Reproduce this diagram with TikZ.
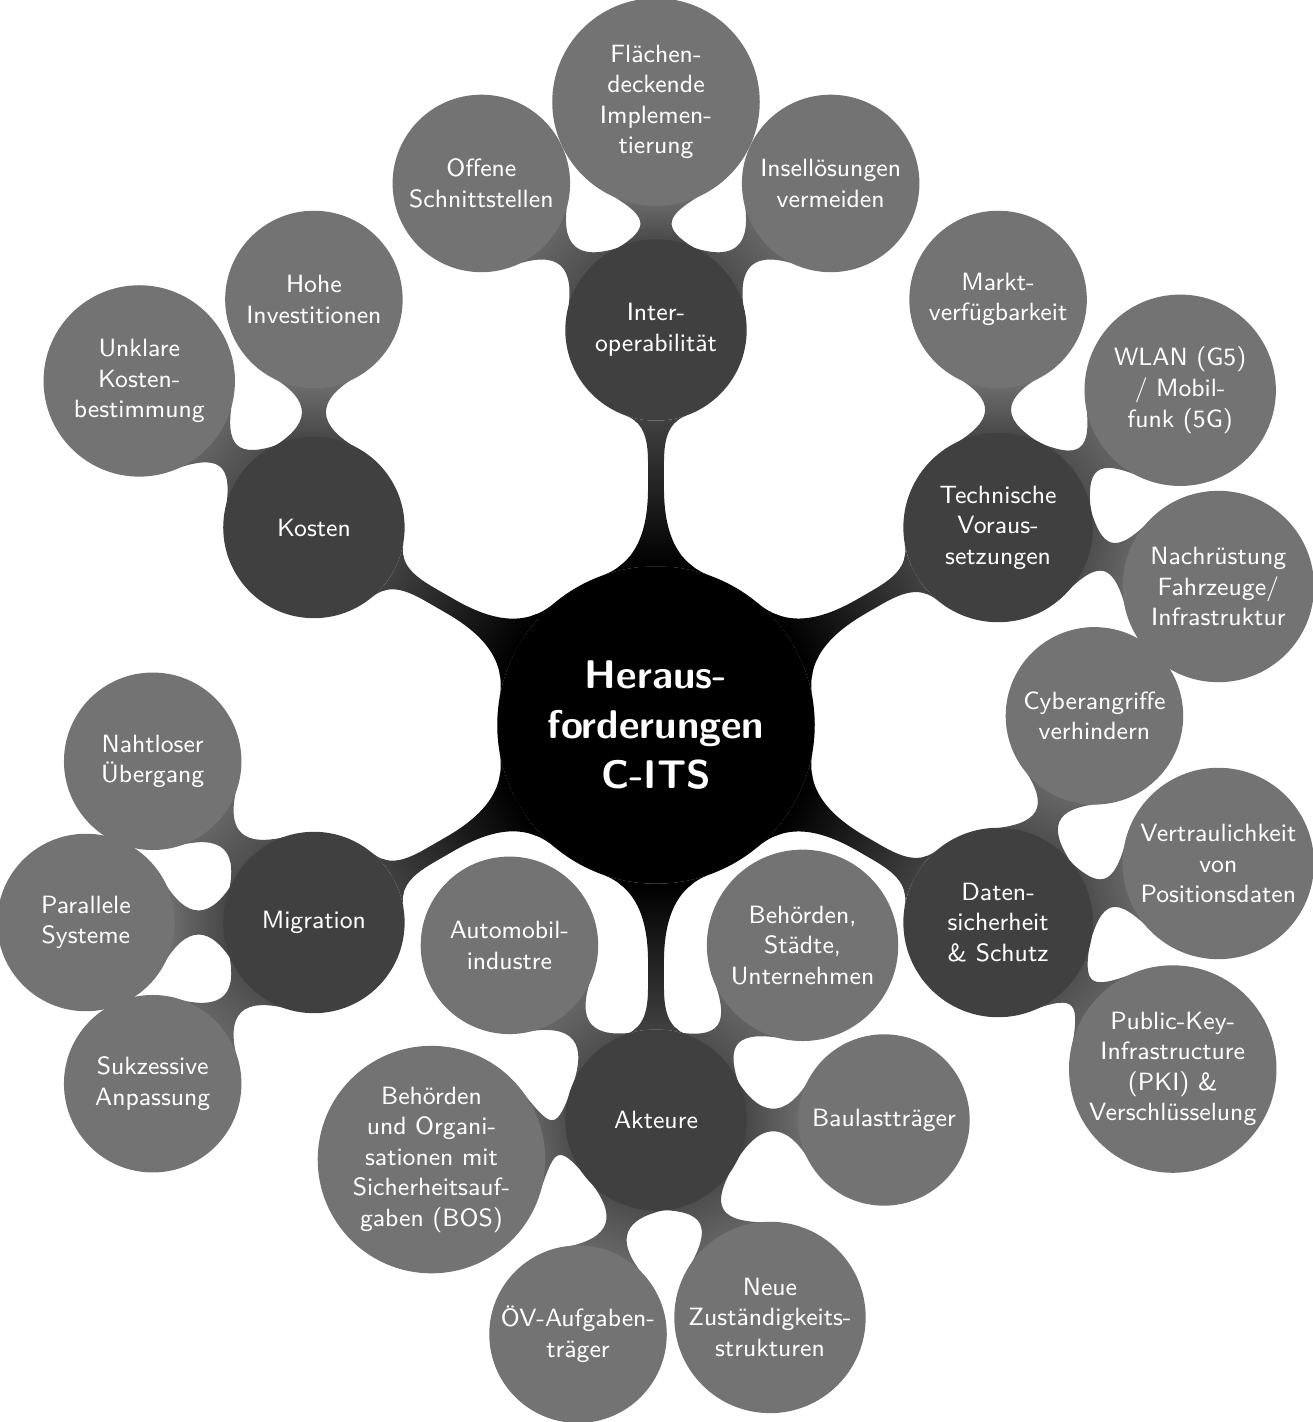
\documentclass[tikz,border=0pt]{standalone}
\usetikzlibrary{mindmap,calc,backgrounds}
\newcommand\cbk{50}
% bar between a level-1 concept (#1) and a level-2 concept (#2);
% #3 direction angle, #4 radius of #1, #5 radius of #2 (picture units)
\newcommand\cbar[5]{%
  \pgfmathsetmacro\cbsa{#3-90}%
  \shade[top color=black!55,bottom color=black!75,shading angle=\cbsa]
    ($(#1)+(#3+30:#4)$)
    .. controls ($(#1)+(#3+30:#4)+(#3-60:\cbk)$) and ($(#2)+(#3+150:#5)+(#3-120:\cbk)$) ..
    ($(#2)+(#3+150:#5)$)
    -- ($(#2)+(#3+210:#5)$)
    .. controls ($(#2)+(#3+210:#5)+(#3+120:\cbk)$) and ($(#1)+(#3-30:#4)+(#3+60:\cbk)$) ..
    ($(#1)+(#3-30:#4)$) -- cycle;
}
\begin{document}
\begin{tikzpicture}[x=0.36pt,y=0.36pt,
  rootc/.style={circle,fill=black,draw=black,line width=0.5pt,text=white,inner sep=0pt,align=center,minimum size=113.8pt,font=\sffamily\Large\bfseries},
  lone/.style={circle,fill=black!75,draw=black!75,line width=0.5pt,text=white,inner sep=0pt,align=center,minimum size=#1,font=\sffamily\small},
  ltwo/.style={circle,fill=black!55,draw=black!55,line width=0.5pt,text=white,inner sep=0pt,align=center,minimum size=#1,font=\sffamily\small},
  barA/.style={circle connection bar switch color=from (black) to (black!75)}]
\useasboundingbox (0,0) rectangle (1312,1422);
% root
\node[rootc] (root) at (656,697) {Heraus-\\forderungen\\C-ITS};
% level 1
\node[lone=64.8pt] (interop) at ($(root)+(90:395)$) {Inter-\\operabilität};
\node[lone=64.8pt] (kosten) at ($(root)+(150:395)$) {Kosten};
\node[lone=67.7pt] (tech) at ($(root)+(30:395)$) {Technische\\Voraus-\\setzungen};
\node[lone=64.8pt] (migr) at ($(root)+(210:395)$) {Migration};
\node[lone=67.7pt] (daten) at ($(root)+(-30:395)$) {Daten-\\sicherheit\\\& Schutz};
\node[lone=64.8pt] (akt) at ($(root)+(270:395)$) {Akteure};
% level 2: Interoperabilitaet
\node[ltwo=63.4pt] (io1) at ($(interop)+(140:228)$) {Offene\\Schnittstellen};
\node[ltwo=74.2pt] (io2) at ($(interop)+(90:228)$) {Flächen-\\deckende\\Implemen-\\tierung};
\node[ltwo=63.4pt] (io3) at ($(interop)+(40:228)$) {Insellösungen\\vermeiden};
% Kosten
\node[ltwo=63.4pt] (ko1) at ($(kosten)+(90:228)$) {Hohe\\Investitionen};
\node[ltwo=68.4pt] (ko2) at ($(kosten)+(140:228)$) {Unklare\\Kosten-\\bestimmung};
% Technische Voraussetzungen
\node[ltwo=63.4pt] (te1) at ($(tech)+(90:228)$) {Markt-\\verfügbarkeit};
\node[ltwo=68.4pt] (te2) at ($(tech)+(37:228)$) {WLAN (G5)\\/ Mobil-\\funk (5G)};
\node[ltwo=68.4pt] (te3) at ($(tech)+(-15:228)$) {Nachrüstung\\Fahrzeuge/\\Infrastruktur};
% Datensicherheit
\node[ltwo=63.4pt] (da1) at ($(daten)+(65:228)$) {Cyberangriffe\\verhindern};
\node[ltwo=68.4pt] (da2) at ($(daten)+(15:228)$) {Vertraulichkeit\\von\\Positionsdaten};
\node[ltwo=74.2pt] (da3) at ($(daten)+(-40:228)$) {Public-Key-\\Infrastructure\\(PKI) \&\\Verschlüsselung};
% Migration
\node[ltwo=63.4pt] (mi1) at ($(migr)+(135:228)$) {Nahtloser\\Übergang};
\node[ltwo=63.4pt] (mi2) at ($(migr)+(180:228)$) {Parallele\\Systeme};
\node[ltwo=63.4pt] (mi3) at ($(migr)+(225:228)$) {Sukzessive\\Anpassung};
% Akteure
\node[ltwo=63.4pt] (ak1) at ($(akt)+(130:228)$) {Automobil-\\industre};
\node[ltwo=68.4pt] (ak2) at ($(akt)+(50:228)$) {Behörden,\\Städte,\\Unternehmen};
\node[ltwo=61.2pt] (ak3) at ($(akt)+(0:228)$) {Baulastträger};
\node[ltwo=68.4pt] (ak4) at ($(akt)+(-60:228)$) {Neue\\Zuständigkeits-\\strukturen};
\node[ltwo=63.4pt] (ak5) at ($(akt)+(-110:228)$) {ÖV-Aufgaben-\\träger};
\node[ltwo=81.4pt] (ak6) at ($(akt)+(190:228)$) {Behörden\\und Organi-\\sationen mit\\Sicherheitsauf-\\gaben (BOS)};
% connections
\begin{pgfonlayer}{background}
\path (root) to[barA] (interop);
\path (root) to[barA] (kosten);
\path (root) to[barA] (tech);
\path (root) to[barA] (migr);
\path (root) to[barA] (daten);
\path (root) to[barA] (akt);
\cbar{interop}{io1}{140}{90}{88}
\cbar{interop}{io2}{90}{90}{103}
\cbar{interop}{io3}{40}{90}{88}
\cbar{kosten}{ko1}{90}{90}{88}
\cbar{kosten}{ko2}{140}{90}{95}
\cbar{tech}{te1}{90}{94}{88}
\cbar{tech}{te2}{37}{94}{95}
\cbar{tech}{te3}{-15}{94}{95}
\cbar{daten}{da1}{65}{94}{88}
\cbar{daten}{da2}{15}{94}{95}
\cbar{daten}{da3}{-40}{94}{103}
\cbar{migr}{mi1}{135}{90}{88}
\cbar{migr}{mi2}{180}{90}{88}
\cbar{migr}{mi3}{225}{90}{88}
\cbar{akt}{ak1}{130}{90}{88}
\cbar{akt}{ak2}{50}{90}{95}
\cbar{akt}{ak3}{0}{90}{85}
\cbar{akt}{ak4}{-60}{90}{95}
\cbar{akt}{ak5}{-110}{90}{88}
\cbar{akt}{ak6}{190}{90}{113}
\end{pgfonlayer}
\end{tikzpicture}
\end{document}
